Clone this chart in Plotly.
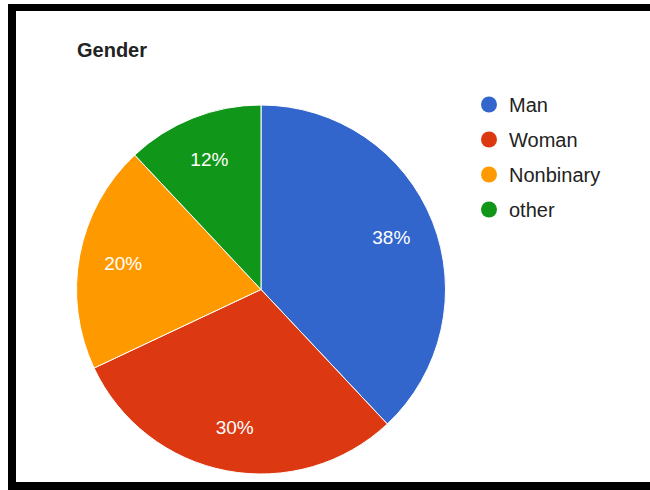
import plotly.graph_objects as go

labels = ["Man", "Woman", "Nonbinary", "other"]
values = [38, 30, 20, 12]
colors = ["#3366cc", "#dc3912", "#ff9900", "#109618"]
title_text = "Gender"

W, H = 650, 490
FONT = "Arial, 'Liberation Sans', sans-serif"
dom = dict(x=[(261 - 185) / W, (261 + 185) / W], y=[(490 - 474) / H, (490 - 105) / H])

fig = go.Figure()
# filled pie
fig.add_trace(go.Pie(
    labels=labels, values=values, sort=False, direction="clockwise", rotation=0,
    marker=dict(colors=colors, line=dict(color="white", width=1)),
    textinfo="none", showlegend=False, hoverinfo="label+percent", domain=dom,
))
# transparent ring carrying the percentage labels (places them further out)
fig.add_trace(go.Pie(
    labels=labels, values=values, sort=False, direction="clockwise", rotation=0, hole=0.52,
    marker=dict(colors=["rgba(0,0,0,0)"] * len(labels), line=dict(width=0)),
    texttemplate="%{percent:.0%}", textposition="inside", insidetextorientation="horizontal",
    textfont=dict(color="white", size=19, family=FONT),
    showlegend=False, hoverinfo="skip", domain=dom,
))
for lab, col in zip(labels, colors):
    fig.add_trace(go.Scatter(
        x=[None], y=[None], mode="markers", name=lab, legendgroup=lab,
        marker=dict(symbol="circle", size=16, color=col), hoverinfo="skip",
    ))

# black frame pieces
frame = [(8 / W, 16 / W, 0, 1 - 4 / H), (8 / W, 1, 1 - 11 / H, 1 - 4 / H), (8 / W, 1, 0, 8 / H)]
shapes = [dict(type="rect", xref="paper", yref="paper", x0=a, x1=b, y0=c, y1=d,
               fillcolor="black", line=dict(width=0), layer="above") for a, b, c, d in frame]

fig.update_layout(
    width=W, height=H, margin=dict(l=0, r=0, t=0, b=0),
    paper_bgcolor="white", plot_bgcolor="white",
    font=dict(family=FONT, color="#222222"),
    title=dict(text="<b>" + title_text + "</b>", x=77 / W, xanchor="left", xref="paper",
               y=1 - 50 / H, yanchor="middle", yref="paper",
               font=dict(size=20, color="#222222", family=FONT)),
    xaxis=dict(visible=False), yaxis=dict(visible=False),
    legend=dict(x=469 / W, xanchor="left", y=1 - 85 / H, yanchor="top",
                font=dict(size=20, color="#222222", family=FONT),
                tracegroupgap=6, itemsizing="trace", bgcolor="rgba(0,0,0,0)"),
    shapes=shapes,
)
fig.write_html("out.html")
